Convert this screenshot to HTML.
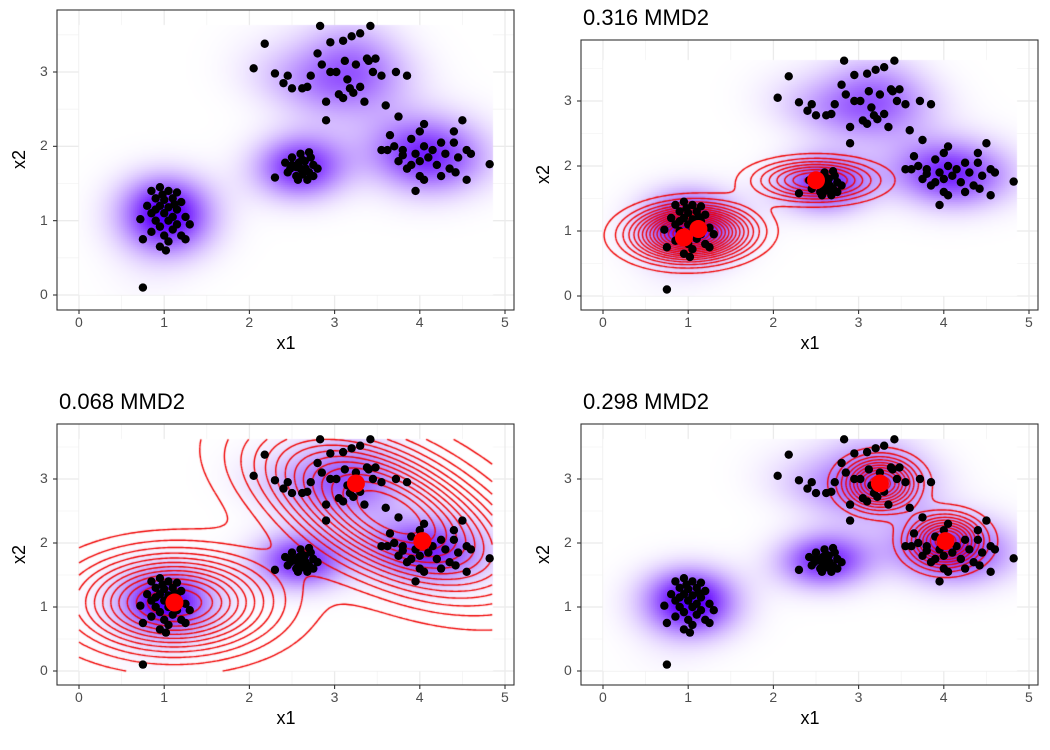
<!DOCTYPE html>
<html><head><meta charset="utf-8">
<style>
body{margin:0;background:#fff;width:1050px;height:750px;overflow:hidden;position:relative;font-family:"Liberation Sans",sans-serif}
.lay{position:absolute;left:0;top:0}
.t{position:absolute;white-space:nowrap;color:#000}
.tick{position:absolute;font-size:14px;color:#4d4d4d;white-space:nowrap}
</style></head><body>
<svg id="grid" class="lay" width="1050" height="750"></svg>
<canvas id="cv" class="lay" width="1050" height="750"></canvas>
<svg id="top" class="lay" width="1050" height="750"></svg>
<div id="txt"></div>
<script>
const clusterA=[[0.75,0.1],[0.85,1.4],[0.95,1.45],[1.05,1.4],[1.15,1.38],[0.9,1.3],[1.0,1.28],[1.1,1.3],[1.2,1.25],[0.8,1.2],[0.95,1.2],[1.05,1.18],[1.15,1.15],[0.85,1.1],[1.0,1.1],[1.1,1.05],[1.25,1.05],[0.9,1.0],[1.05,1.0],[1.15,0.95],[0.72,1.02],[0.95,0.92],[1.1,0.88],[1.2,0.8],[0.85,0.85],[1.0,0.8],[1.05,0.72],[0.95,0.65],[1.02,0.6],[0.75,0.75],[1.25,0.75],[1.3,0.95],[0.9,1.15],[1.12,1.22],[0.98,1.35]];
const clusterB=[[2.3,1.58],[2.45,1.65],[2.5,1.75],[2.55,1.6],[2.6,1.7],[2.65,1.8],[2.7,1.65],[2.75,1.75],[2.8,1.7],[2.5,1.85],[2.6,1.9],[2.7,1.92],[2.55,1.72],[2.62,1.62],[2.68,1.55],[2.58,1.78],[2.72,1.85],[2.48,1.7],[2.66,1.7],[2.62,1.82],[2.75,1.6],[2.42,1.78],[2.57,1.55]];
const clusterC=[[2.18,3.38],[2.83,3.62],[3.42,3.62],[2.05,3.05],[2.3,2.98],[2.4,2.85],[2.5,2.78],[2.45,2.95],[2.62,2.78],[2.72,2.95],[2.8,3.25],[2.85,3.1],[2.9,2.6],[2.95,3.4],[3.02,3.0],[3.05,2.7],[3.1,2.65],[3.15,2.9],[3.2,3.48],[3.25,3.1],[3.3,2.8],[3.18,2.78],[3.4,3.15],[3.45,3.0],[3.35,2.6],[3.55,2.95],[3.3,3.52],[3.1,3.42],[2.95,3.0],[3.22,2.72],[3.38,3.18],[2.68,2.8],[3.72,3.0],[3.85,2.95],[3.6,2.55],[2.9,2.35],[3.12,3.15],[3.48,3.18]];
const clusterD=[[3.55,1.95],[3.62,1.95],[3.7,2.0],[3.75,1.8],[3.8,1.95],[3.85,1.7],[3.9,2.1],[3.95,1.9],[4.0,1.8],[4.05,2.0],[4.1,1.85],[4.15,1.95],[4.2,1.75],[4.25,2.05],[4.3,1.9],[4.35,1.7],[4.4,2.05],[4.45,1.85],[4.55,1.95],[4.55,1.55],[4.6,1.9],[4.42,1.65],[3.95,1.4],[4.0,1.6],[4.05,1.55],[4.0,2.2],[4.4,2.2],[4.5,2.35],[4.05,2.3],[3.9,1.75],[4.25,1.6],[3.65,2.15],[4.82,1.76],[3.75,2.4],[3.8,1.88]];
const points=clusterA.concat(clusterB,clusterC,clusterD);
const xTicks=[0,1,2,3,4,5];
const yTicks=[0,1,2,3];
const titles=["","0.316 MMD2","0.068 MMD2","0.298 MMD2"];
const centers2=[[0.95,0.9],[1.12,1.03],[2.5,1.78]];
const centers3=[[1.12,1.07],[3.25,2.93],[4.03,2.03]];
const centers4=[[3.25,2.93],[4.02,2.03]];
// kernel shape per panel: [sx, sy, rho, weight]
const kern2=[[0.42,0.25,0,1],[0.42,0.25,0,1],[0.45,0.2,0,0.8]];
const kern3=[[0.75,0.5,0,1],[0.85,0.65,-0.4,1],[0.85,0.65,-0.4,1]];
const kern4=[[0.28,0.26,0,1],[0.28,0.26,0,1]];
const nLevels=[0,16,14,10];

const panels=[
 {L:57,T:10,R:514,B:310,x0:79,x5:505,y0:295,y3:72},
 {L:581,T:40,R:1038,B:310,x0:603,x5:1029,y0:296,y3:101},
 {L:57,T:424,R:514,B:685,x0:79,x5:505,y0:671,y3:479},
 {L:581,T:424,R:1038,B:685,x0:603,x5:1029,y0:671,y3:479}];
const NS='http://www.w3.org/2000/svg';
const G=document.getElementById('grid'),TP=document.getElementById('top'),TX=document.getElementById('txt');
const ctx=document.getElementById('cv').getContext('2d');
function mk(p,tag,a){const e=document.createElementNS(NS,tag);for(const k in a)e.setAttribute(k,a[k]);p.appendChild(e);return e;}
function txt(s,x,y,cls,style,name){const d=document.createElement('div');d.className=cls;d.textContent=s;d.style.cssText=style;d.style.left=x+'px';d.style.top=y+'px';


TX.appendChild(d);return d;}
function density(x,y){let s=0;for(const p of points){const dx=(x-p[0])/0.38,dy=(y-p[1])/0.3;s+=Math.exp(-0.5*(dx*dx+dy*dy));}return s;}
function mix(x,y,cs,ks){let s=0;cs.forEach((c,i)=>{const[sx,sy,r,w]=ks[i];const dx=(x-c[0])/sx,dy=(y-c[1])/sy;s+=w*Math.exp(-0.5*(dx*dx-2*r*dx*dy+dy*dy)/(1-r*r))/(sx*sy*Math.sqrt(1-r*r));});return s;}
const XMIN=0,XMAX=4.85,YMIN=0,YMAX=3.62;
const NX=100,NY=75;let dmax=0;
for(let j=0;j<=NY;j++)for(let i=0;i<=NX;i++){const v=density(XMIN+(XMAX-XMIN)*i/NX,YMIN+(YMAX-YMIN)*j/NY);if(v>dmax)dmax=v;}
panels.forEach((P,pi)=>{
 const sx=v=>P.x0+(P.x5-P.x0)*v/5, sy=v=>P.y0+(P.y3-P.y0)*v/3;
 const g=mk(G,'g',{});
 
 
 mk(g,'rect',{x:P.L,y:P.T,width:P.R-P.L,height:P.B-P.T,fill:'#fff'});
 for(let v=-0.5;v<=5.5;v+=1){const X=sx(v);if(X>P.L&&X<P.R)mk(g,'line',{x1:X,x2:X,y1:P.T,y2:P.B,stroke:'#f4f4f4','stroke-width':0.8});}
 for(let v=-0.5;v<=4;v+=1){const Y=sy(v);if(Y>P.T&&Y<P.B)mk(g,'line',{x1:P.L,x2:P.R,y1:Y,y2:Y,stroke:'#f4f4f4','stroke-width':0.8});}
 xTicks.forEach(v=>{const X=sx(v);mk(g,'line',{x1:X,x2:X,y1:P.T,y2:P.B,stroke:'#ebebeb','stroke-width':1.3});});
 yTicks.forEach(v=>{const Y=sy(v);mk(g,'line',{x1:P.L,x2:P.R,y1:Y,y2:Y,stroke:'#ebebeb','stroke-width':1.3});});
 const c0=sx(XMIN),c1=sx(XMAX),r0=sy(YMAX),r1=sy(YMIN);
 for(let Y=Math.floor(r0);Y<r1;Y+=2)for(let X=Math.floor(c0);X<c1;X+=2){
  const dx=(X+1-P.x0)/(P.x5-P.x0)*5, dy=(Y+1-P.y0)/(P.y3-P.y0)*3;
  const u=Math.min(1,density(dx,dy)/dmax);const v=Math.pow(u,1.3);
  const r=Math.round(255-175*v),gg=Math.round(255-255*Math.min(1,v*1.1));
  ctx.fillStyle=`rgb(${r},${gg},255)`;ctx.fillRect(X,Y,2,2);}
 let cs=null,ks=null;if(pi===1){cs=centers2;ks=kern2}if(pi===2){cs=centers3;ks=kern3}if(pi===3){cs=centers4;ks=kern4}
 if(cs){
  const MX=180,MY=135,f=[];let fm=0;
  for(let j=0;j<=MY;j++){f[j]=[];for(let i=0;i<=MX;i++){const v=mix(XMIN+(XMAX-XMIN)*i/MX,YMIN+(YMAX-YMIN)*j/MY,cs,ks);f[j][i]=v;if(v>fm)fm=v;}}
  const n=nLevels[pi];ctx.strokeStyle='#f00000';ctx.lineWidth=1.4;
  const gx=i=>sx(XMIN+(XMAX-XMIN)*i/MX),gy=j=>sy(YMIN+(YMAX-YMIN)*j/MY);
  for(let k=1;k<=n;k++){const lv=fm*k/(n+1);ctx.beginPath();
   for(let j=0;j<MY;j++)for(let i=0;i<MX;i++){
    const a=f[j][i],b=f[j][i+1],c=f[j+1][i+1],d=f[j+1][i];
    const pts=[];
    const e=(v1,v2,x1,y1,x2,y2)=>{if((v1<lv)!==(v2<lv)){const t=(lv-v1)/(v2-v1);pts.push([x1+(x2-x1)*t,y1+(y2-y1)*t]);}};
    e(a,b,i,j,i+1,j);e(b,c,i+1,j,i+1,j+1);e(c,d,i+1,j+1,i,j+1);e(d,a,i,j+1,i,j);
    for(let q=0;q+1<pts.length;q+=2){ctx.moveTo(gx(pts[q][0]),gy(pts[q][1]));ctx.lineTo(gx(pts[q+1][0]),gy(pts[q+1][1]));}
   }ctx.stroke();}
 }
 const tg=mk(TP,'g',{});
 
 
 points.forEach(p=>{const c=mk(tg,'circle',{cx:sx(p[0]),cy:sy(p[1]),r:4.2,fill:'#000'});
  
  });
 if(cs)cs.forEach(p=>{const c=mk(tg,'circle',{cx:sx(p[0]),cy:sy(p[1]),r:9,fill:'#ff0000'});
  
  });
 const fr=mk(tg,'rect',{x:P.L,y:P.T,width:P.R-P.L,height:P.B-P.T,fill:'none',stroke:'#333','stroke-width':1.1});
 
 
 xTicks.forEach(v=>{const X=sx(v);mk(tg,'line',{x1:X,x2:X,y1:P.B,y2:P.B+4,stroke:'#333','stroke-width':1.1});
  txt(String(v),X-4,P.B+4,'tick','','x-tick-label');});
 yTicks.forEach(v=>{const Y=sy(v);mk(tg,'line',{x1:P.L-4,x2:P.L,y1:Y,y2:Y,stroke:'#333','stroke-width':1.1});
  txt(String(v),P.L-17,Y-9,'tick','','y-tick-label');});
 txt('x1',(P.L+P.R)/2-9,P.B+23,'t','font-size:18px','x-axis-title');
 txt('x2',P.L-47,(P.T+P.B)/2-11,'t','font-size:18px;transform:rotate(-90deg)','y-axis-title');
 if(titles[pi])txt(titles[pi],P.L+2,P.T-35,'t','font-size:22px','panel-title');
});
</script>
</body></html>
